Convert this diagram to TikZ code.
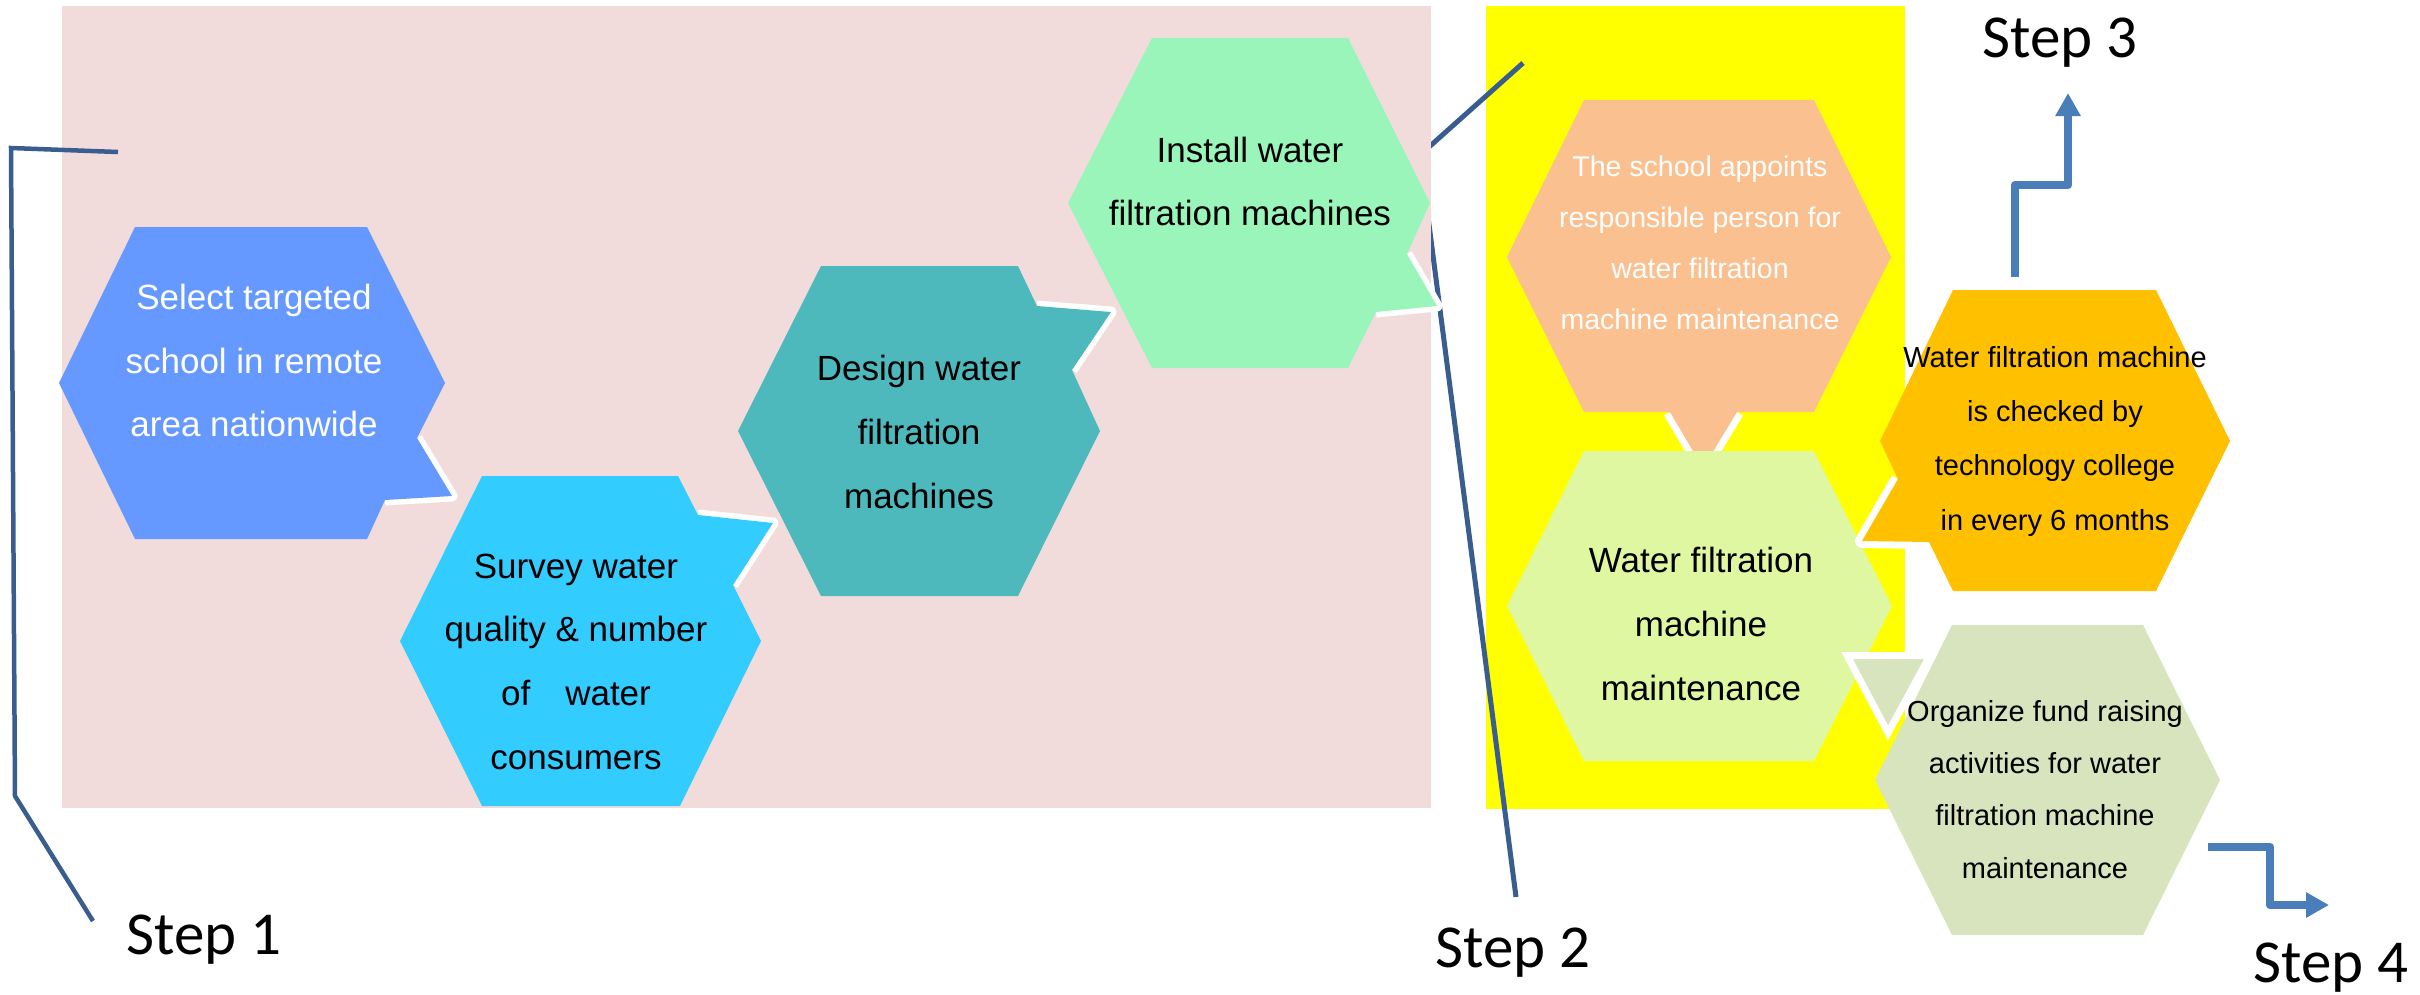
\documentclass[tikz,border=0pt]{standalone}
\usepackage{fontspec}
\setmainfont{Liberation Sans}
\newfontfamily\calibrifont{Carlito}
\usetikzlibrary{arrows.meta}
\definecolor{pinkbg}{HTML}{F2DCDB}
\definecolor{yellowbg}{HTML}{FFFF00}
\definecolor{cA}{HTML}{6699FF}
\definecolor{cB}{HTML}{33CCFF}
\definecolor{cC}{HTML}{4EB9BD}
\definecolor{cD}{HTML}{99F5B9}
\definecolor{cE}{HTML}{FAC090}
\definecolor{cF}{HTML}{DEF7A0}
\definecolor{cG}{HTML}{FFC000}
\definecolor{cH}{HTML}{D7E4BD}
\definecolor{linecol}{HTML}{3A5D8F}
\definecolor{arrowcol}{HTML}{4A7EBB}
\tikzset{
  tailL/.style={draw=white, line width=11pt, line join=round, line cap=butt},
  tailR/.style={draw=white, line width=14pt, line join=round, line cap=butt},
  bracket/.style={draw=linecol, line width=4.5pt},
  steparrow/.style={draw=arrowcol, line width=8.5pt, line join=round, -{Triangle[length=23pt,width=24pt]}},
  txt/.style={anchor=north, align=center, inner sep=0pt},
  steplabel/.style={anchor=base, inner sep=0pt, font={\calibrifont\fontsize{61}{70}\selectfont}},
}
\begin{document}
\begin{tikzpicture}[x=1pt,y=-1pt]
\useasboundingbox (0,0) rectangle (2420,994);
% yellow panel
\fill[yellowbg] (1486,6) rectangle (1905,809);
% Step 2 bracket (over the yellow panel, behind the pink panel)
\coordinate (b2a) at (1523,63);
\coordinate (b2b) at (1420,155);
\coordinate (b2c) at (1516,897);
\draw[bracket, line width=5pt] (b2a) -- (b2b) -- (b2c);
% pink panel
\fill[pinkbg] (62,6) rectangle (1431,808);
% Step 1 bracket
\coordinate (b1a) at (118,152);
\coordinate (b1b) at (11,148);
\coordinate (b1c) at (15,796);
\coordinate (b1d) at (93,921);
\draw[bracket] (b1a) -- (b1b) -- (b1c) -- (b1d);
% hex 1
\draw[tailL] (417,438) -- (452,496) -- (385,500);
\fill[cA] (59,383) -- (135,227) -- (367,227) -- (445,383) -- (417,438) -- (452,496) -- (385,500) -- (367,539) -- (135,539) -- cycle;
% hex 2
\draw[tailL] (698,515) -- (773,523) -- (733,585);
\fill[cB] (400,641) -- (482,476) -- (678,476) -- (698,515) -- (773,523) -- (733,585) -- (761,641) -- (680,806) -- (482,806) -- cycle;
% hex 3
\draw[tailL] (1037,306) -- (1111,312) -- (1072,370);
\fill[cC] (738,431) -- (821,266) -- (1018,266) -- (1037,306) -- (1111,312) -- (1072,370) -- (1100,431) -- (1018,596) -- (821,596) -- cycle;
% hex 4
\draw[tailL] (1407,254) -- (1437,306) -- (1376,312);
\fill[cD] (1068,203) -- (1152,38) -- (1348,38) -- (1430,203) -- (1407,254) -- (1437,306) -- (1376,312) -- (1348,368) -- (1152,368) -- cycle;
% hex 5
\draw[tailR] (1670,412) -- (1703,468) -- (1737,412);
\fill[cE] (1507,257) -- (1584,100) -- (1814,100) -- (1891,257) -- (1814,412) -- (1737,412) -- (1703,468) -- (1670,412) -- (1584,412) -- cycle;
% hex 6
\fill[cF] (1507,606) -- (1584,451) -- (1814,451) -- (1892,606) -- (1814,761) -- (1584,761) -- cycle;
% hex 7
\draw[tailR] (1929,542) -- (1862,541) -- (1898,479);
\fill[cG] (1880,441) -- (1953,290) -- (2156,290) -- (2230,441) -- (2156,591) -- (1953,591) -- (1929,542) -- (1862,541) -- (1898,479) -- cycle;
% hex 8
\fill[cH] (1875,780) -- (1952,625) -- (2143,625) -- (2220,780) -- (2143,935) -- (1952,935) -- cycle;
\filldraw[fill=cH, draw=white, line width=7pt, line join=miter] (1847,655.5) -- (1930,655.5) -- (1888,733) -- cycle;
% texts (node top = top of the first line's strut, 0.7 baselineskip above its baseline)
\node[txt, text=white, font={\fontsize{35}{63.5}\selectfont}] (t1) at (254,265) {\strut Select targeted\\school in remote\\area nationwide};
\node[txt, font={\fontsize{35}{63.7}\selectfont}] (t2) at (576,533.4) {\strut Survey water\\quality \& number\\of\hspace{35pt}water\\consumers};
\node[txt, font={\fontsize{35}{64}\selectfont}] (t3) at (919,335.2) {\strut Design water\\filtration\\machines};
\node[txt, font={\fontsize{35}{63}\selectfont}] (t4) at (1250,117.9) {\strut Install water\\filtration machines};
\node[txt, text=white, font={\fontsize{28.5}{51.2}\selectfont}] (t5) at (1700,140.2) {\strut The school appoints\\responsible person for\\water filtration\\machine maintenance};
\node[txt, font={\fontsize{35}{63.6}\selectfont}] (t6) at (1701,528.2) {\strut Water filtration\\machine\\maintenance};
\node[txt, font={\fontsize{29}{54.3}\selectfont}] (t7) at (2055,329) {\strut Water filtration machine\\is checked by\\technology college\\in every 6 months};
\node[txt, font={\fontsize{29}{52.4}\selectfont}] (t8) at (2045,684.3) {\strut Organize fund raising\\activities for water\\filtration machine\\maintenance};
% step labels
\node[steplabel] (s1) at (204,954) {Step 1};
\node[steplabel] (s2) at (1513,967) {Step 2};
\node[steplabel] (s3) at (2060,57) {Step 3};
\node[steplabel] (s4) at (2331,982) {Step 4};
% step arrows
\coordinate (a3s) at (2015,277);
\coordinate (a3m1) at (2015,185);
\coordinate (a3m2) at (2068,185);
\coordinate (a3e) at (2068,93);
\draw[steparrow] (a3s) -- (a3m1) -- (a3m2) -- (a3e);
\coordinate (a4s) at (2208,847);
\coordinate (a4m1) at (2270,847);
\coordinate (a4m2) at (2270,905);
\coordinate (a4e) at (2329,905);
\draw[steparrow] (a4s) -- (a4m1) -- (a4m2) -- (a4e);
\end{tikzpicture}
\end{document}
